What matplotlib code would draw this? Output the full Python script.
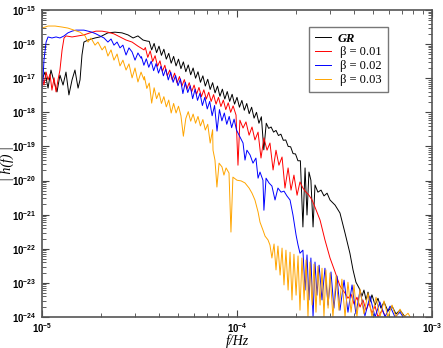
import numpy as np
import matplotlib
matplotlib.use("Agg")
from matplotlib import pyplot as plt
from matplotlib.ticker import LogLocator, FuncFormatter, NullFormatter

plt.rcParams['mathtext.fontset'] = 'custom'
plt.rcParams['mathtext.rm'] = 'Liberation Sans:bold'
plt.rcParams['mathtext.it'] = 'Liberation Sans:bold'

# spectra as (log10 f, log10 |h|)
gr_pts = [
    (-5.000, -17.05), (-4.985, -16.82), (-4.969, -17.29), (-4.954, -16.76), (-4.938, -17.11),
    (-4.923, -17.40), (-4.908, -16.91), (-4.892, -17.20), (-4.877, -16.82), (-4.862, -17.49),
    (-4.846, -17.05), (-4.831, -16.76), (-4.815, -17.29), (-4.805, -17.05), (-4.795, -16.32),
    (-4.785, -15.94), (-4.764, -15.88), (-4.728, -15.82), (-4.703, -15.79), (-4.662, -15.67),
    (-4.626, -15.65), (-4.590, -15.67), (-4.559, -15.73), (-4.533, -15.82), (-4.508, -15.76),
    (-4.482, -15.88), (-4.462, -15.91),
    (-4.450, -15.92), (-4.4375, -16.17), (-4.425, -15.98), (-4.4125, -16.25), (-4.400, -16.06),
    (-4.3875, -16.33), (-4.375, -16.15), (-4.3625, -16.44), (-4.350, -16.27), (-4.3375, -16.56),
    (-4.325, -16.36), (-4.3125, -16.64), (-4.300, -16.44), (-4.2875, -16.72), (-4.275, -16.52),
    (-4.2625, -16.81), (-4.250, -16.61), (-4.2375, -16.90), (-4.225, -16.70), (-4.2125, -17.00),
    (-4.200, -16.81), (-4.1875, -17.12), (-4.175, -16.93), (-4.1625, -17.23), (-4.150, -17.03),
    (-4.1375, -17.33), (-4.125, -17.13), (-4.1125, -17.43), (-4.100, -17.23), (-4.0875, -17.53),
    (-4.075, -17.32), (-4.0625, -17.61), (-4.050, -17.39), (-4.0375, -17.68), (-4.025, -17.47),
    (-4.0125, -17.76), (-4.000, -17.56), (-3.9875, -17.85), (-3.975, -17.65), (-3.9625, -17.94),
    (-3.950, -17.74), (-3.9375, -18.04), (-3.925, -17.85), (-3.9125, -18.17), (-3.900, -18.00),
    (-3.8875, -18.32), (-3.875, -18.13), (-3.8625, -19.10), (-3.850, -18.32), (-3.8375, -18.47),
    (-3.825, -18.43), (-3.8125, -18.58), (-3.800, -18.53), (-3.7875, -18.68), (-3.775, -18.64),
    (-3.7625, -18.82), (-3.750, -18.81), (-3.7375, -19.00), (-3.725, -19.01), (-3.7125, -19.21),
    (-3.700, -19.22), (-3.6875, -19.42), (-3.675, -19.42),
    (-3.662, -21.36), (-3.651, -19.63), (-3.641, -21.01), (-3.631, -19.75), (-3.621, -19.99),
    (-3.610, -21.36), (-3.600, -20.13), (-3.585, -20.34), (-3.569, -20.28), (-3.554, -20.45),
    (-3.538, -20.37), (-3.523, -20.57), (-3.497, -20.72), (-3.472, -20.95), (-3.446, -21.54),
    (-3.421, -22.13), (-3.405, -22.62), (-3.390, -22.98), (-3.374, -23.15), (-3.359, -23.39),
    (-3.349, -23.21), (-3.338, -23.50), (-3.328, -23.27), (-3.318, -23.56), (-3.308, -23.35),
    (-3.292, -23.65), (-3.277, -23.45), (-3.262, -23.74), (-3.246, -23.56), (-3.226, -23.83),
    (-3.205, -23.68), (-3.185, -23.91), (-3.164, -23.80), (-3.138, -24.00), (-3.113, -24.10),
]

b01_pts = [
    (-5.000, -16.91), (-4.990, -17.20), (-4.979, -16.82), (-4.969, -17.05), (-4.959, -16.88),
    (-4.949, -17.35), (-4.938, -16.99), (-4.928, -17.40), (-4.918, -17.05), (-4.908, -16.76),
    (-4.897, -16.17), (-4.887, -15.82), (-4.877, -15.76), (-4.846, -15.79), (-4.815, -15.76),
    (-4.785, -15.73), (-4.754, -15.67), (-4.723, -15.62), (-4.692, -15.62), (-4.662, -15.65),
    (-4.631, -15.70), (-4.600, -15.79), (-4.569, -15.88), (-4.538, -15.94), (-4.508, -16.06),
    (-4.477, -16.17),
    (-4.4700, -16.10), (-4.4575, -16.39), (-4.4450, -16.20), (-4.4325, -16.51), (-4.4200, -16.34),
    (-4.4075, -16.65), (-4.3950, -16.49), (-4.3825, -16.80), (-4.3700, -16.62), (-4.3575, -16.93),
    (-4.3450, -16.76), (-4.3325, -17.05), (-4.3200, -16.85), (-4.3075, -17.14), (-4.2950, -16.95),
    (-4.2825, -17.23), (-4.2700, -17.04), (-4.2575, -17.32), (-4.2450, -17.13), (-4.2325, -17.40),
    (-4.2200, -17.20), (-4.2075, -17.47), (-4.1950, -17.27), (-4.1825, -17.54), (-4.1700, -17.34),
    (-4.1575, -17.61), (-4.1450, -17.41), (-4.1325, -17.68), (-4.1200, -17.48), (-4.1075, -17.76),
    (-4.0950, -17.56), (-4.0825, -17.83), (-4.0700, -17.64), (-4.0575, -17.92), (-4.0450, -17.72),
    (-4.0325, -18.00), (-4.0200, -17.81),
    (-4.005, -18.08), (-3.995, -19.55), (-3.985, -18.23), (-3.969, -18.46), (-3.954, -18.28),
    (-3.938, -18.67), (-3.923, -18.43), (-3.908, -18.81), (-3.892, -18.58), (-3.877, -19.34),
    (-3.862, -18.75), (-3.846, -19.11), (-3.831, -18.90), (-3.815, -19.69), (-3.800, -19.11),
    (-3.785, -19.55), (-3.769, -19.31), (-3.754, -20.22), (-3.738, -19.63), (-3.723, -20.28),
    (-3.708, -19.84), (-3.692, -20.43), (-3.677, -20.04), (-3.662, -20.22), (-3.646, -20.34),
    (-3.631, -20.43), (-3.615, -20.57), (-3.600, -20.78), (-3.574, -21.16), (-3.549, -21.74),
    (-3.523, -22.27), (-3.497, -22.68), (-3.472, -23.09), (-3.446, -23.30), (-3.431, -23.45),
    (-3.415, -23.33), (-3.400, -23.62), (-3.385, -23.42), (-3.369, -23.71), (-3.354, -23.50),
    (-3.338, -23.80), (-3.323, -23.59), (-3.308, -23.89), (-3.292, -23.68), (-3.277, -24.00),
    (-3.256, -23.80), (-3.236, -24.00), (-3.215, -24.09),
]

b02_pts = [
    (-5.000, -17.29), (-4.995, -17.05), (-4.990, -16.47), (-4.979, -15.94), (-4.969, -15.79),
    (-4.949, -15.82), (-4.928, -15.79), (-4.908, -15.82), (-4.887, -15.76), (-4.867, -15.67),
    (-4.846, -15.62), (-4.826, -15.59), (-4.805, -15.59), (-4.785, -15.59), (-4.764, -15.62),
    (-4.744, -15.65), (-4.723, -15.70), (-4.703, -15.76), (-4.682, -15.82), (-4.662, -15.94),
    (-4.646, -15.85), (-4.631, -16.03), (-4.615, -15.94), (-4.600, -16.11), (-4.585, -16.03),
    (-4.569, -16.32), (-4.554, -16.11), (-4.538, -16.23), (-4.523, -16.47), (-4.508, -16.26),
    (-4.492, -16.41),
    (-4.490, -16.37), (-4.4775, -16.62), (-4.465, -16.43), (-4.4525, -16.68), (-4.440, -16.50),
    (-4.4275, -16.78), (-4.415, -16.57), (-4.4025, -16.85), (-4.390, -16.65), (-4.3775, -16.93),
    (-4.365, -16.73), (-4.3525, -17.05), (-4.340, -16.82), (-4.3275, -17.12), (-4.315, -16.92),
    (-4.3025, -17.22), (-4.290, -17.02), (-4.2775, -17.45), (-4.265, -17.12), (-4.2525, -17.42),
    (-4.240, -17.22), (-4.2275, -17.60), (-4.215, -17.32), (-4.2025, -17.65), (-4.190, -17.44),
    (-4.1775, -17.80), (-4.165, -17.56), (-4.1525, -17.90), (-4.140, -17.68), (-4.1275, -18.10),
    (-4.115, -17.80), (-4.1025, -18.55), (-4.090, -17.92), (-4.0775, -18.25), (-4.065, -18.02),
    (-4.0525, -18.35), (-4.040, -18.12), (-4.0275, -18.45), (-4.015, -18.20), (-4.0025, -18.52),
    (-3.969, -18.90), (-3.959, -19.40), (-3.949, -19.11), (-3.933, -19.25), (-3.918, -19.49),
    (-3.903, -19.34), (-3.892, -19.93), (-3.882, -19.75), (-3.867, -19.99), (-3.862, -20.87),
    (-3.851, -19.93), (-3.836, -20.07), (-3.821, -20.16), (-3.805, -20.57), (-3.790, -20.22),
    (-3.774, -20.34), (-3.759, -20.31), (-3.744, -20.45), (-3.728, -20.57), (-3.713, -21.01),
    (-3.697, -21.60), (-3.687, -21.89), (-3.677, -22.13), (-3.662, -22.04), (-3.651, -23.21),
    (-3.641, -22.18), (-3.631, -23.50), (-3.621, -22.27), (-3.610, -24.00), (-3.600, -22.39),
    (-3.590, -23.36), (-3.579, -22.48), (-3.564, -23.50), (-3.549, -22.57), (-3.533, -23.65),
    (-3.518, -22.68), (-3.503, -23.74), (-3.487, -22.80), (-3.472, -23.80), (-3.451, -22.92),
    (-3.431, -23.86), (-3.410, -23.06), (-3.390, -23.91), (-3.369, -23.21), (-3.344, -23.97),
    (-3.318, -23.39), (-3.292, -24.00), (-3.267, -23.56), (-3.241, -24.00), (-3.215, -23.68),
    (-3.190, -24.00), (-3.164, -23.86), (-3.138, -24.09),
]

b03_pts = [
    (-5.000, -15.53), (-4.969, -15.47), (-4.933, -15.47), (-4.897, -15.50), (-4.867, -15.53),
    (-4.836, -15.59), (-4.805, -15.65), (-4.779, -15.76), (-4.764, -15.94), (-4.749, -15.82),
    (-4.728, -16.03), (-4.713, -15.94), (-4.692, -16.17), (-4.677, -16.06), (-4.662, -16.35),
    (-4.646, -16.17), (-4.631, -16.47), (-4.615, -16.29), (-4.600, -16.64), (-4.585, -16.47),
    (-4.569, -16.76), (-4.554, -16.58), (-4.538, -16.99), (-4.523, -16.70), (-4.508, -17.11),
    (-4.492, -16.82), (-4.477, -17.05),
    (-4.475, -16.95), (-4.4625, -17.30), (-4.450, -17.14), (-4.4375, -17.73), (-4.425, -17.28),
    (-4.4125, -17.60), (-4.400, -17.42), (-4.3875, -17.74), (-4.375, -17.54), (-4.3625, -17.84),
    (-4.350, -17.64), (-4.3375, -18.02), (-4.325, -17.74), (-4.3125, -18.02), (-4.300, -17.82),
    (-4.2875, -18.10), (-4.275, -18.70), (-4.2625, -18.18), (-4.250, -17.98), (-4.2375, -18.26),
    (-4.225, -18.05), (-4.2125, -18.32), (-4.200, -18.12), (-4.1875, -18.40), (-4.175, -18.21),
    (-4.1625, -18.52), (-4.150, -18.35), (-4.1375, -18.90), (-4.125, -18.51),
    (-4.123, -19.11), (-4.113, -19.40), (-4.103, -20.19), (-4.092, -19.49), (-4.077, -19.60),
    (-4.067, -19.84), (-4.056, -19.63), (-4.041, -19.78), (-4.031, -21.51), (-4.021, -19.90),
    (-4.000, -19.99), (-3.979, -20.01), (-3.959, -20.07), (-3.938, -20.22), (-3.923, -20.37),
    (-3.908, -20.57), (-3.892, -20.92), (-3.882, -21.22), (-3.867, -21.45), (-3.856, -21.63),
    (-3.841, -21.74), (-3.831, -21.89),
    (-3.821, -22.27), (-3.810, -21.86), (-3.800, -22.62), (-3.790, -21.92), (-3.779, -22.77),
    (-3.769, -21.98), (-3.759, -23.06), (-3.749, -22.04), (-3.738, -23.21), (-3.728, -22.10),
    (-3.718, -23.50), (-3.708, -22.16), (-3.697, -23.36), (-3.687, -22.21), (-3.677, -23.80),
    (-3.667, -22.27), (-3.656, -23.50), (-3.646, -22.33), (-3.636, -24.00), (-3.626, -22.39),
    (-3.615, -23.65), (-3.605, -22.45), (-3.595, -23.86), (-3.585, -22.51), (-3.574, -23.65),
    (-3.564, -22.57), (-3.554, -24.00), (-3.544, -22.62), (-3.533, -23.74), (-3.523, -22.71),
    (-3.508, -24.00), (-3.492, -22.80), (-3.477, -23.80), (-3.462, -22.89), (-3.446, -24.00),
    (-3.431, -22.98), (-3.415, -23.86), (-3.400, -23.06), (-3.385, -24.00), (-3.369, -23.18),
    (-3.349, -23.91), (-3.328, -23.30), (-3.308, -24.00), (-3.287, -23.42), (-3.267, -24.00),
    (-3.246, -23.53), (-3.226, -24.00), (-3.205, -23.65), (-3.185, -24.00), (-3.164, -23.77),
    (-3.144, -24.00), (-3.123, -23.89), (-3.103, -24.09),
]

series = [
    (gr_pts, 'black', 'GR'),
    (b01_pts, '#ff0000', ' β = 0.01'),
    (b02_pts, '#0000ff', ' β = 0.02'),
    (b03_pts, '#ffa500', ' β = 0.03'),
]

fig = plt.figure(figsize=(4.43, 3.48), dpi=100)
ax = fig.add_axes([42 / 443, 31 / 348, 390 / 443, 307 / 348])

for pts, col, lab in series:
    lf, lh = np.array(pts).T
    ax.plot(10 ** lf, 10 ** lh, color=col, lw=0.7, label=lab)

ax.set_xscale('log')
ax.set_yscale('log')
ax.set_xlim(1e-5, 1e-3)
ax.set_ylim(1e-24, 1e-15)

ax.xaxis.set_major_locator(LogLocator(base=10, numticks=10))
ax.yaxis.set_major_locator(LogLocator(base=10, numticks=20))
ax.xaxis.set_minor_locator(LogLocator(base=10, subs=np.arange(2, 10), numticks=20))
ax.yaxis.set_minor_locator(LogLocator(base=10, subs=np.arange(2, 10), numticks=40))
fmt = FuncFormatter(lambda v, p: r'$10^{%d}$' % int(round(np.log10(v))))
ax.xaxis.set_major_formatter(fmt)
ax.yaxis.set_major_formatter(fmt)
ax.xaxis.set_minor_formatter(NullFormatter())
ax.yaxis.set_minor_formatter(NullFormatter())

ax.tick_params(which='both', direction='in', top=True, right=True, colors='#444444',
               labelcolor='black', labelsize=7)
ax.tick_params(which='major', length=5, width=0.8)
ax.tick_params(which='minor', length=3, width=0.6)
ax.tick_params(axis='x', which='major', pad=3)
ax.tick_params(axis='y', which='major', pad=4)
for s in ax.spines.values():
    s.set_color('#555555')
    s.set_linewidth(1.2)

ax.set_xlabel('f/Hz', family='Liberation Serif', style='italic', fontsize=10)
ax.set_ylabel('| h(f) |', family='Liberation Serif', style='italic', fontsize=10)
ax.xaxis.set_label_coords(0.5, -0.057)
ax.yaxis.set_label_coords(-0.072, 0.5)

leg = ax.legend(loc='upper left', bbox_to_anchor=(0.685, 0.945), frameon=True, fancybox=False,
                edgecolor='#555555', borderaxespad=0, handlelength=1.3, handletextpad=0.5,
                labelspacing=0.15, borderpad=0.45,
                prop={'family': 'Liberation Serif', 'size': 9})
leg.get_frame().set_linewidth(1.0)
gr_txt = leg.get_texts()[0]
gr_txt.set_fontweight('bold')
gr_txt.set_fontstyle('italic')

fig.savefig('out.png', dpi=100)
